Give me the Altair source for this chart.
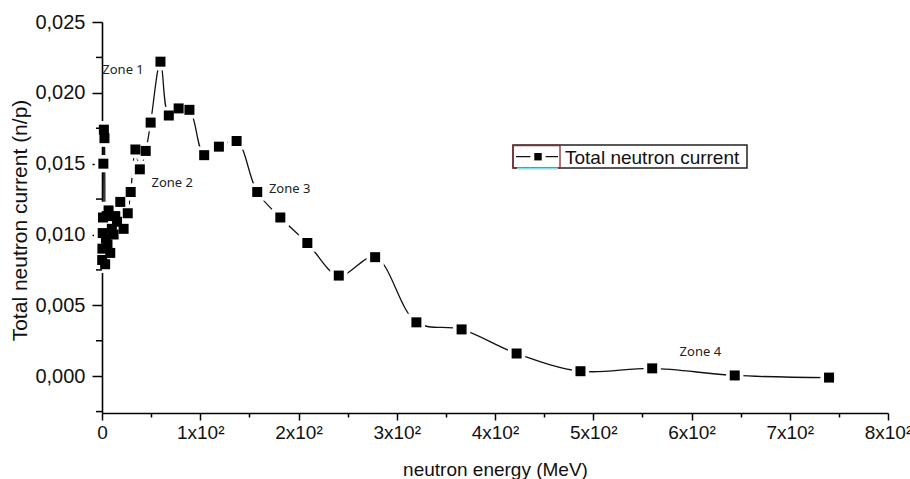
import altair as alt
import pandas as pd

# Total neutron current per energy bin (energy in MeV, current in n/p)
energy = [0.2, 0.4, 0.7, 1.0, 1.4, 1.9, 2.5, 3.2, 4.0, 4.8, 5.6, 6.7, 8.4,
          10.0, 11.8, 13.5, 15.3, 18.6, 22.0, 26.2, 29.2, 34.0, 38.5, 44.5,
          49.5, 59.5, 68.0, 78.0, 89.0, 104.0, 119.0, 137.0, 158.0, 181.5,
          209.0, 241.0, 278.0, 320.0, 366.0, 422.0, 487.0, 560.0, 644.0, 740.0]
current = [0.0082, 0.0090, 0.0101, 0.0112, 0.0150, 0.0174, 0.0168, 0.0079,
           0.0097, 0.0113, 0.0093, 0.0117, 0.0087, 0.0104, 0.0100, 0.0113,
           0.0109, 0.0123, 0.0104, 0.0115, 0.0130, 0.0160, 0.0146, 0.0159,
           0.0179, 0.0222, 0.0184, 0.0189, 0.0188, 0.0156, 0.0162, 0.0166,
           0.0130, 0.0112, 0.0094, 0.0071, 0.0084, 0.0038, 0.0033, 0.0016,
           0.00035, 0.00055, 0.00005, -0.0001]

# Zone annotations
zone_names = ["Zone 1", "Zone 2", "Zone 3", "Zone 4"]
zone_energy = [21.4, 71.5, 191.0, 609.0]
zone_current = [0.02163, 0.01364, 0.01322, 0.00171]

legend_label = "Total neutron current"
x_title = "neutron energy (MeV)"
y_title = "Total neutron current (n/p)"

x_ticks = [0, 50, 100, 150, 200, 250, 300, 350, 400, 450, 500, 550, 600, 650, 700, 750, 800]
y_major_ticks = [0.0, 0.005, 0.01, 0.015, 0.02, 0.025]
y_minor_ticks = [-0.0025, 0.0025, 0.0075, 0.0125, 0.0175, 0.0225]

W, H = 786, 391
FONT = "Liberation Sans"

df = pd.DataFrame({"energy": energy, "current": current})
zones = pd.DataFrame({"name": zone_names, "energy": zone_energy, "current": zone_current})
minor_y = pd.DataFrame({"current": y_minor_ticks})
one = pd.DataFrame({"label": [legend_label]})

x_enc = alt.X(
    "energy:Q",
    scale=alt.Scale(domain=[0, 800], nice=False, zero=False),
    axis=alt.Axis(
        values=x_ticks,
        title=x_title,
        titleFont=FONT, titleFontSize=19, titleFontWeight="normal", titleColor="#111",
        titleX=W / 2, titleY=62, titleAlign="center", titleBaseline="alphabetic",
        labelExpr="datum.value % 100 != 0 ? '' : (datum.value == 0 ? '0' : format(datum.value / 100, 'd') + 'x10\u00b2')",
        labelFont=FONT, labelFontSize=19, labelColor="#111", labelFlush=False,
        labelPadding=3, labelOverlap=False,
        tickSize={"condition": {"test": "datum.value % 100 == 0", "value": 7}, "value": 4},
        tickColor="black", tickWidth=1.5,
        domainColor="black", domainWidth=1.6, grid=False,
    ),
)

y_enc = alt.Y(
    "current:Q",
    scale=alt.Scale(domain=[-0.0026, 0.025], nice=False, zero=False),
    axis=alt.Axis(
        values=y_major_ticks,
        title=y_title,
        titleFont=FONT, titleFontSize=21, titleFontWeight="normal", titleColor="#111",
        titleX=-82, titleY=198, titleAngle=-90, titleAlign="center", titleBaseline="middle",
        labelExpr="'0,' + slice(format(datum.value, '.3f'), 2)",
        labelFont=FONT, labelFontSize=20, labelColor="#111", labelFlush=False,
        labelPadding=7, labelOverlap=False,
        tickSize=10, tickColor="black", tickWidth=1.5,
        domainColor="black", domainWidth=1.6, grid=False,
    ),
)

base = alt.Chart(df)

curve = base.mark_line(interpolate="catmull-rom", color="#111", strokeWidth=1.3).encode(
    x=x_enc, y=y_enc
)

# white halo under every symbol leaves a gap between line and marker
halo = base.mark_point(shape="square", filled=True, color="white", opacity=1, size=300).encode(
    x="energy:Q", y="current:Q"
)
squares = base.mark_point(shape="square", filled=True, color="black", opacity=1, size=100).encode(
    x="energy:Q", y="current:Q"
)

# minor ticks on the left axis
minor_ticks = alt.Chart(minor_y).mark_rule(color="black", strokeWidth=1.5).encode(
    y="current:Q", x=alt.value(-6), x2=alt.value(0)
)

zone_text = alt.Chart(zones).mark_text(
    font="Noto Sans", fontSize=13, color="#222", align="center", baseline="middle"
).encode(x="energy:Q", y="current:Q", text="name:N")

# legend box
leg_box = alt.Chart(one).mark_rect(fill="white", stroke="#222", strokeWidth=1.5).encode(
    x=alt.value(411), x2=alt.value(645), y=alt.value(123), y2=alt.value(146)
)
leg_inner = alt.Chart(one).mark_rect(fill="white", fillOpacity=0, stroke="#8e2a2a", strokeWidth=1.3).encode(
    x=alt.value(411), x2=alt.value(458), y=alt.value(123.5), y2=alt.value(146)
)
leg_cyan = alt.Chart(one).mark_rule(color="#7fe3ef", strokeWidth=2).encode(
    x=alt.value(415), x2=alt.value(456), y=alt.value(146.5)
)
leg_line = alt.Chart(one).mark_rule(color="#111", strokeWidth=1.3).encode(
    x=alt.value(414), x2=alt.value(456), y=alt.value(134.7)
)
leg_halo = alt.Chart(one).mark_point(shape="square", filled=True, color="white", opacity=1, size=230).encode(
    x=alt.value(436), y=alt.value(134.7)
)
leg_sq = alt.Chart(one).mark_point(shape="square", filled=True, color="black", opacity=1, size=55).encode(
    x=alt.value(436), y=alt.value(134.7)
)
leg_text = alt.Chart(one).mark_text(
    font=FONT, fontSize=19, color="#111", align="left", baseline="middle"
).encode(x=alt.value(463), y=alt.value(135.5), text="label:N")

chart = alt.layer(
    curve, halo, squares, minor_ticks, zone_text,
    leg_box, leg_inner, leg_cyan, leg_line, leg_halo, leg_sq, leg_text,
).properties(
    width=W, height=H,
    autosize=alt.AutoSizeParams(type="none"),
    padding={"left": 102, "top": 22, "right": 22, "bottom": 66},
    background="white",
).configure_view(stroke=None)

chart.save("out.html", embed_options={"renderer": "svg", "actions": False})
